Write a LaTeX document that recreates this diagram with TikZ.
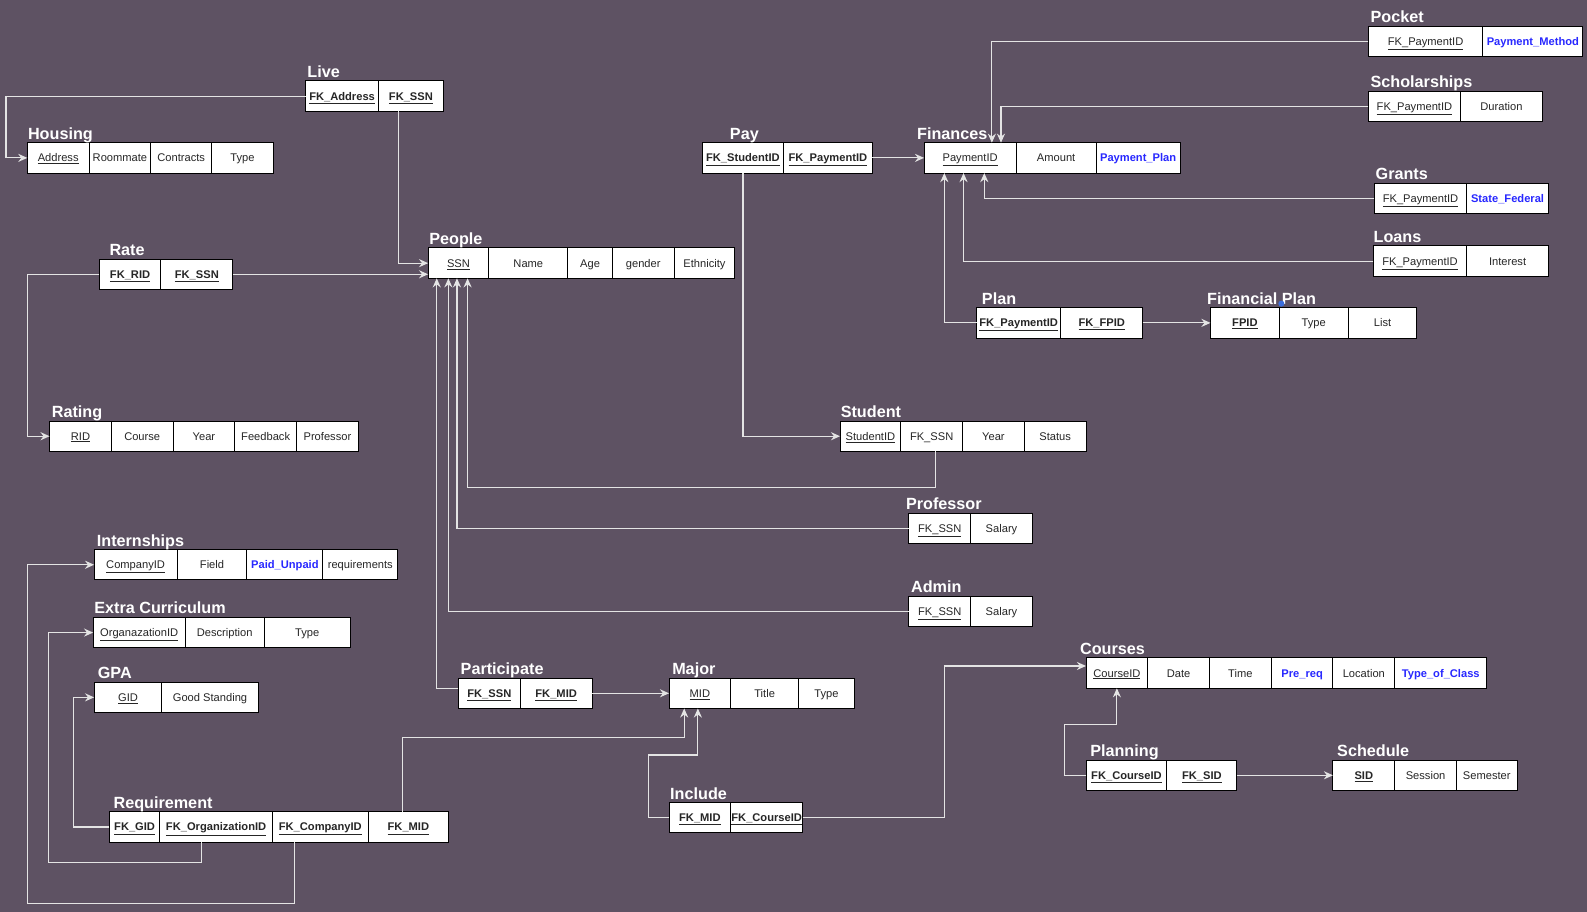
\documentclass[tikz,border=0pt]{standalone}
\usepackage{fontspec}
\setmainfont{Liberation Sans}
\usetikzlibrary{positioning, arrows.meta, calc}
\definecolor{bgcol}{RGB}{94,82,99}
\definecolor{wirecol}{RGB}{228,228,228}
\definecolor{attrblue}{RGB}{40,40,255}
\definecolor{dotblue}{RGB}{60,110,220}
\newcommand{\cellfont}{\fontsize{11}{13}\selectfont}
\newcommand{\namefont}{\bfseries\fontsize{16}{19}\selectfont}
\newcommand{\keyattr}[1]{\underline{#1}}
\newcommand{\linkattr}[1]{\textbf{\underline{#1}}}
\newcommand{\blueattr}[1]{\textcolor{attrblue}{\textbf{#1}}}

\begin{document}
\begin{tikzpicture}[x=1pt, y=-1pt, node distance=0pt]
       \tikzstyle{cell} = [
            rectangle,
            draw=black,
            line width=1pt,
            fill=white,
            text=black!85,
            font=\cellfont,
            minimum height=30pt,
            text height=9pt,
            text depth=1pt,
            inner sep=0pt,
            outer sep=0pt
       ]
       \tikzstyle{tname} = [
            inner sep=0pt,
            text=white,
            font=\namefont,
            anchor=base west
       ]
       \tikzstyle{link} = [draw=wirecol, line width=1.2pt, -{Stealth[length=9pt, width=8pt, inset=3pt]}]
       \fill[bgcol] (0,0) rectangle (1568,901);
       \useasboundingbox (0,0) rectangle (1568,901);

       % left column
       \node (live1) [cell, minimum width=72pt, anchor=north west] at (302,80) {\linkattr{FK\_Address}};
       \node (live2) [cell, minimum width=64pt, right=of live1] {\linkattr{FK\_SSN}};
       \node (liveT) [tname, xshift=1.5pt] at ([yshift=3.5pt]live1.north west) {Live};

       \node (house1) [cell, minimum width=61pt, anchor=north west] at (27,141) {\keyattr{Address}};
       \node (house2) [cell, minimum width=61pt, right=of house1] {Roommate};
       \node (house3) [cell, minimum width=60pt, right=of house2] {Contracts};
       \node (house4) [cell, minimum width=61pt, right=of house3] {Type};
       \node (houseT) [tname, xshift=0.5pt] at ([yshift=3.5pt]house1.north west) {Housing};

       \node (rate1) [cell, minimum width=61pt, anchor=north west] at (98,256) {\linkattr{FK\_RID}};
       \node (rate2) [cell, minimum width=71pt, right=of rate1] {\linkattr{FK\_SSN}};
       \node (rateT) [tname, xshift=10pt] at ([yshift=3.5pt]rate1.north west) {Rate};

       \node (ppl1) [cell, minimum width=60pt, anchor=north west] at (423,245) {\keyattr{SSN}};
       \node (ppl2) [cell, minimum width=78pt, right=of ppl1] {Name};
       \node (ppl3) [cell, minimum width=44pt, right=of ppl2] {Age};
       \node (ppl4) [cell, minimum width=61pt, right=of ppl3] {gender};
       \node (ppl5) [cell, minimum width=60pt, right=of ppl4] {Ethnicity};
       \node (pplT) [tname, xshift=1pt] at ([yshift=3.5pt]ppl1.north west) {People};

       \node (rtg1) [cell, minimum width=61pt, anchor=north west] at (49,416) {\keyattr{RID}};
       \node (rtg2) [cell, minimum width=61pt, right=of rtg1] {Course};
       \node (rtg3) [cell, minimum width=61pt, right=of rtg2] {Year};
       \node (rtg4) [cell, minimum width=61pt, right=of rtg3] {Feedback};
       \node (rtg5) [cell, minimum width=61pt, right=of rtg4] {Professor};
       \node (rtgT) [tname, xshift=2pt] at ([yshift=3.5pt]rtg1.north west) {Rating};

       \node (intern1) [cell, minimum width=82pt, anchor=north west] at (93,543) {\keyattr{CompanyID}};
       \node (intern2) [cell, minimum width=69pt, right=of intern1] {Field};
       \node (intern3) [cell, minimum width=75pt, right=of intern2] {\blueattr{Paid\_Unpaid}};
       \node (intern4) [cell, minimum width=74pt, right=of intern3] {requirements};
       \node (internT) [tname, xshift=2.5pt] at ([yshift=3.5pt]intern1.north west) {Internships};

       \node (extra1) [cell, minimum width=91pt, anchor=north west] at (92,610) {\keyattr{OrganazationID}};
       \node (extra2) [cell, minimum width=78pt, right=of extra1] {Description};
       \node (extra3) [cell, minimum width=85pt, right=of extra2] {Type};
       \node (extraT) [tname, xshift=1pt] at ([yshift=3.5pt]extra1.north west) {Extra Curriculum};

       \node (gpa1) [cell, minimum width=67pt, anchor=north west] at (93,674) {\keyattr{GID}};
       \node (gpa2) [cell, minimum width=95pt, right=of gpa1] {Good Standing};
       \node (gpaT) [tname, xshift=3.5pt] at ([yshift=3.5pt]gpa1.north west) {GPA};

       \node (req1) [cell, minimum width=50pt, anchor=north west] at (108,802) {\linkattr{FK\_GID}};
       \node (req2) [cell, minimum width=111pt, right=of req1] {\linkattr{FK\_OrganizationID}};
       \node (req3) [cell, minimum width=95pt, right=of req2] {\linkattr{FK\_CompanyID}};
       \node (req4) [cell, minimum width=79pt, right=of req3] {\linkattr{FK\_MID}};
       \node (reqT) [tname, xshift=4pt] at ([yshift=3.5pt]req1.north west) {Requirement};

       % middle
       \node (pay1) [cell, minimum width=80pt, anchor=north west] at (694,141) {\linkattr{FK\_StudentID}};
       \node (pay2) [cell, minimum width=88pt, right=of pay1] {\linkattr{FK\_PaymentID}};
       \node (payT) [tname, xshift=27pt] at ([yshift=3.5pt]pay1.north west) {Pay};

       \node (stu1) [cell, minimum width=60pt, anchor=north west] at (830,416) {\keyattr{StudentID}};
       \node (stu2) [cell, minimum width=61pt, right=of stu1] {FK\_SSN};
       \node (stu3) [cell, minimum width=61pt, right=of stu2] {Year};
       \node (stu4) [cell, minimum width=61pt, right=of stu3] {Status};
       \node (stuT) [tname, xshift=0.5pt] at ([yshift=3.5pt]stu1.north west) {Student};

       \node (prof1) [cell, minimum width=61pt, anchor=north west] at (898,507) {\keyattr{FK\_SSN}};
       \node (prof2) [cell, minimum width=61pt, right=of prof1] {Salary};
       \node (profT) [tname, xshift=-3pt] at ([yshift=3.5pt]prof1.north west) {Professor};

       \node (adm1) [cell, minimum width=61pt, anchor=north west] at (898,589) {\keyattr{FK\_SSN}};
       \node (adm2) [cell, minimum width=61pt, right=of adm1] {Salary};
       \node (admT) [tname, xshift=2pt] at ([yshift=3.5pt]adm1.north west) {Admin};

       \node (part1) [cell, minimum width=61pt, anchor=north west] at (453,670) {\linkattr{FK\_SSN}};
       \node (part2) [cell, minimum width=71pt, right=of part1] {\linkattr{FK\_MID}};
       \node (partT) [tname, xshift=2pt] at ([yshift=3.5pt]part1.north west) {Participate};

       \node (maj1) [cell, minimum width=61pt, anchor=north west] at (661,670) {\keyattr{MID}};
       \node (maj2) [cell, minimum width=67pt, right=of maj1] {Title};
       \node (maj3) [cell, minimum width=55pt, right=of maj2] {Type};
       \node (majT) [tname, xshift=3pt] at ([yshift=3.5pt]maj1.north west) {Major};

       \node (inc1) [cell, minimum width=61pt, anchor=north west] at (661,793) {\linkattr{FK\_MID}};
       \node (inc2) [cell, minimum width=71pt, right=of inc1] {\linkattr{FK\_CourseID}};
       \node (incT) [tname, xshift=1pt] at ([yshift=3.5pt]inc1.north west) {Include};

       % right side
       \node (fin1) [cell, minimum width=91pt, anchor=north west] at (913,141) {\keyattr{PaymentID}};
       \node (fin2) [cell, minimum width=79pt, right=of fin1] {Amount};
       \node (fin3) [cell, minimum width=83pt, right=of fin2] {\blueattr{Payment\_Plan}};
       \node (finT) [tname, xshift=-7pt] at ([yshift=3.5pt]fin1.north west) {Finances};

       \node (pock1) [cell, minimum width=113pt, anchor=north west] at (1352,26) {\keyattr{FK\_PaymentID}};
       \node (pock2) [cell, minimum width=99pt, right=of pock1] {\blueattr{Payment\_Method}};
       \node (pockT) [tname, xshift=2pt] at ([yshift=3.5pt]pock1.north west) {Pocket};

       \node (schol1) [cell, minimum width=91pt, anchor=north west] at (1352,90) {\keyattr{FK\_PaymentID}};
       \node (schol2) [cell, minimum width=81pt, right=of schol1] {Duration};
       \node (scholT) [tname, xshift=2pt] at ([yshift=3.5pt]schol1.north west) {Scholarships};

       \node (grant1) [cell, minimum width=91pt, anchor=north west] at (1358,181) {\keyattr{FK\_PaymentID}};
       \node (grant2) [cell, minimum width=81pt, right=of grant1] {\blueattr{State\_Federal}};
       \node (grantT) [tname, xshift=1pt] at ([yshift=3.5pt]grant1.north west) {Grants};

       \node (loan1) [cell, minimum width=92pt, anchor=north west] at (1357,243) {\keyattr{FK\_PaymentID}};
       \node (loan2) [cell, minimum width=81pt, right=of loan1] {Interest};
       \node (loanT) [tname] at ([yshift=3.5pt]loan1.north west) {Loans};

       \node (plan1) [cell, minimum width=83pt, anchor=north west] at (965,304) {\linkattr{FK\_PaymentID}};
       \node (plan2) [cell, minimum width=81pt, right=of plan1] {\linkattr{FK\_FPID}};
       \node (planT) [tname, xshift=5pt] at ([yshift=3.5pt]plan1.north west) {Plan};

       \node (fp1) [cell, minimum width=68pt, anchor=north west] at (1196,304) {\linkattr{FPID}};
       \node (fp2) [cell, minimum width=68pt, right=of fp1] {Type};
       \node (fp3) [cell, minimum width=68pt, right=of fp2] {List};
       \node (fpT) [tname, xshift=-3.5pt] at ([yshift=3.5pt]fp1.north west) {Financial Plan};
       \node (selDot) [circle, fill=dotblue, inner sep=0pt, minimum size=6pt] at (1266,300) {};

       \node (crs1) [cell, minimum width=61pt, anchor=north west] at (1073,650) {\keyattr{CourseID}};
       \node (crs2) [cell, minimum width=61pt, right=of crs1] {Date};
       \node (crs3) [cell, minimum width=61pt, right=of crs2] {Time};
       \node (crs4) [cell, minimum width=61pt, right=of crs3] {\blueattr{Pre\_req}};
       \node (crs5) [cell, minimum width=61pt, right=of crs4] {Location};
       \node (crs6) [cell, minimum width=91pt, right=of crs5] {\blueattr{Type\_of\_Class}};
       \node (crsT) [tname, xshift=-6pt] at ([yshift=3.5pt]crs1.north west) {Courses};

       \node (pln1) [cell, minimum width=80pt, anchor=north west] at (1073,751) {\linkattr{FK\_CourseID}};
       \node (pln2) [cell, minimum width=69pt, right=of pln1] {\linkattr{FK\_SID}};
       \node (plnT) [tname, xshift=4pt] at ([yshift=3.5pt]pln1.north west) {Planning};

       \node (sch1) [cell, minimum width=61pt, anchor=north west] at (1317,751) {\linkattr{SID}};
       \node (sch2) [cell, minimum width=61pt, right=of sch1] {Session};
       \node (sch3) [cell, minimum width=60pt, right=of sch2] {Semester};
       \node (schT) [tname, xshift=4pt] at ([yshift=3.5pt]sch1.north west) {Schedule};

       % connectors
       \draw[link] (live1.west) -- ++(-296,0) |- (house1.west);
       \draw[link] ([xshift=-12pt]live2.south) |- (ppl1.west);
       \draw[link] (rate2.east) -- (rate2.east -| ppl1.west);
       \draw[link] (rate1.west) -- ++(-71,0) |- (rtg1.west);
       \draw[link] (pay2.east) -- (fin1.west);
       \draw[link] (pay1.south) |- (stu1.west);
       \draw[link] (pock1.west) -| ([xshift=21.5pt]fin1.north);
       \draw[link] (schol1.west) -| ([xshift=30.5pt]fin1.north);
       \draw[link] (grant1.west) -| ([xshift=14pt]fin1.south);
       \draw[link] (loan1.west) -| ([xshift=-6.5pt]fin1.south);
       \draw[link] (plan1.west) -| ([xshift=-25.5pt]fin1.south);
       \draw[link] (plan2.east) -- (fp1.west);
       \draw[link] ([xshift=4pt]stu2.south) -- ++(0,36) -| ([xshift=9pt]ppl1.south);
       \draw[link] (prof1.west) -| ([xshift=-1.5pt]ppl1.south);
       \draw[link] (adm1.west) -| ([xshift=-10pt]ppl1.south);
       \draw[link] ([yshift=5pt]part1.west) -| ([xshift=-21.5pt]ppl1.south);
       \draw[link] (part2.east) -- (maj1.west);
       \draw[link] ([xshift=-6pt]req4.north) -- ++(0,-73.4) -| ([xshift=-15.5pt]maj1.south);
       \draw[link] (inc1.west) -- ++(-20.5,0) -- ++(0,-62) -| ([xshift=-2pt]maj1.south);
       \draw[link] (inc2.east) -- ++(140,0) |- ([yshift=7pt]crs1.west);
       \draw[link] (pln1.west) -- ++(-21,0) -- ++(0,-50) -| (crs1.south);
       \draw[link] (pln2.east) -- (sch1.west);
       \draw[link] (req1.west) -- ++(-35.5,0) |- (gpa1.west);
       \draw[link] ([xshift=-14.5pt]req2.south) -- ++(0,20.5) -- ++(-151.3,0) |- (extra1.west);
       \draw[link] ([xshift=-25.5pt]req3.south) -- ++(0,61) -- ++(-264,0) |- (intern1.west);
\end{tikzpicture}
\end{document}
